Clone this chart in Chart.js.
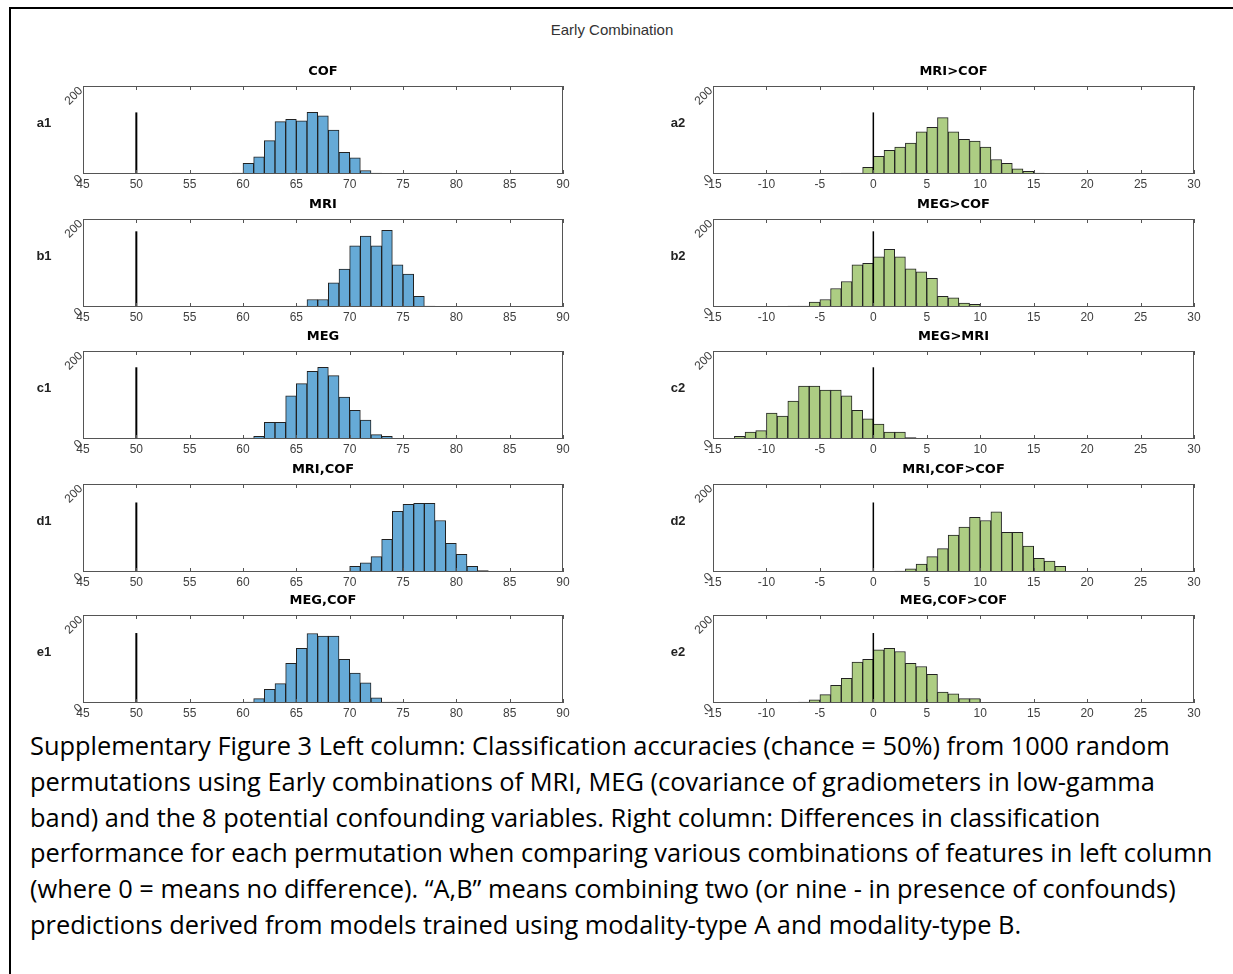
<!DOCTYPE html>
<html>
<head>
<meta charset="utf-8">
<script src="https://cdn.jsdelivr.net/npm/chart.js@4.4.1/dist/chart.umd.min.js"></script>
<style>
  body { margin: 0; background: #fff; }
  #page { position: relative; width: 1233px; height: 974px; overflow: hidden; background: #fff; }
  #frame { position: absolute; left: 9px; top: 7px; right: -5px; bottom: -5px; border-top: 2px solid #000; border-left: 2px solid #000; }
  #suptitle { position: absolute; left: 0; width: 1224px; top: 21px; text-align: center; font: 15px 'Liberation Sans', sans-serif; color: #333; }
  canvas { position: absolute; }
  #caption { position: absolute; left: 30px; top: 728px; font: 25.4px 'Open Sans', 'Liberation Sans', sans-serif; line-height: 35.8px; color: #000; white-space: nowrap; }
</style>
</head>
<body>
<div id="page">
  <div id="frame"></div>
  <div id="suptitle">Early Combination</div>
  <div id="caption">
    Supplementary Figure 3 Left column: Classification accuracies (chance = 50%) from 1000 random<br>
    permutations using Early combinations of MRI, MEG (covariance of gradiometers in low-gamma<br>
    band) and the 8 potential confounding variables. Right column: Differences in classification<br>
    performance for each permutation when comparing various combinations of features in left column<br>
    (where 0 = means no difference). “A,B” means combining two (or nine - in presence of confounds)<br>
    predictions derived from models trained using modality-type A and modality-type B.
  </div>
</div>
<script>
const leftRange = [45, 90];
const rightRange = [-15, 30];
const leftTicks = [45, 50, 55, 60, 65, 70, 75, 80, 85, 90];
const rightTicks = [-15, -10, -5, 0, 5, 10, 15, 20, 25, 30];
const yTicks = [0, 200];

const leftTitles = ['COF', 'MRI', 'MEG', 'MRI,COF', 'MEG,COF'];
const rightTitles = ['MRI>COF', 'MEG>COF', 'MEG>MRI', 'MRI,COF>COF', 'MEG,COF>COF'];
const leftNames = ['a1', 'b1', 'c1', 'd1', 'e1'];
const rightNames = ['a2', 'b2', 'c2', 'd2', 'e2'];

const chanceLeft = 50;
const chanceRight = 0;
const chanceHeights = [140, 172, 163, 158, 159];

// lower edge of the first bin, bins are 1 wide
const leftFirstBin = [59, 65, 60, 70, 60];
const rightFirstBin = [-3, -8, -13, 2, -7];

const a1 = [2, 24, 39, 76, 119, 124, 121, 140, 132, 100, 49, 37, 8, 2];
const b1 = [2, 17, 17, 55, 86, 139, 161, 139, 174, 96, 75, 24, 2];
const c1 = [2, 6, 38, 38, 98, 126, 154, 163, 144, 95, 65, 43, 10, 6];
const d1 = [13, 21, 35, 74, 138, 154, 156, 156, 117, 65, 40, 13, 3];
const e1 = [2, 10, 31, 44, 90, 124, 158, 152, 152, 99, 68, 46, 12, 2, 2];

const a2 = [2, 2, 15, 40, 54, 61, 70, 96, 106, 128, 96, 79, 75, 61, 33, 24, 12, 6, 2];
const b2 = [2, 2, 11, 17, 42, 58, 96, 99, 114, 131, 114, 87, 80, 65, 24, 21, 9, 6];
const c2 = [6, 16, 19, 59, 52, 86, 120, 120, 111, 111, 98, 65, 46, 34, 16, 16, 3];
const d2 = [2, 7, 18, 35, 53, 84, 102, 124, 117, 137, 90, 90, 59, 31, 25, 13];
const e2 = [2, 7, 19, 40, 56, 93, 99, 121, 124, 117, 90, 83, 65, 25, 21, 10, 10];

const leftCounts = [a1, b1, c1, d1, e1];
const rightCounts = [a2, b2, c2, d2, e2];

const blue = '#66AAD7';
const green = '#ADCD83';
const rowTops = [86, 219, 351, 484, 615];

const boxPlugin = {
  id: 'box',
  afterDraw(chart, args, opts) {
    const { ctx, chartArea: a, scales } = chart;
    ctx.save();
    ctx.strokeStyle = '#555';
    ctx.lineWidth = 1;
    ctx.strokeRect(a.left + 0.5, a.top + 0.5, a.right - a.left - 1, a.bottom - a.top - 1);
    // inward tick marks like matlab
    scales.x.ticks.forEach(t => {
      const px = Math.round(scales.x.getPixelForValue(t.value)) + 0.5;
      ctx.beginPath();
      ctx.moveTo(px, a.bottom);
      ctx.lineTo(px, a.bottom - 4);
      ctx.moveTo(px, a.top);
      ctx.lineTo(px, a.top + 4);
      ctx.stroke();
    });
    // slanted y labels
    ctx.fillStyle = '#404040';
    ctx.font = '12px "Liberation Sans", sans-serif';
    ctx.textAlign = 'right';
    ctx.textBaseline = 'middle';
    scales.y.ticks.forEach(t => {
      const py = scales.y.getPixelForValue(t.value);
      ctx.save();
      ctx.translate(a.left - 2, py + 3);
      ctx.rotate(-Math.PI / 4);
      ctx.fillText(String(t.value), 0, 0);
      ctx.restore();
    });
    ctx.fillStyle = '#000';
    ctx.textAlign = 'center';
    ctx.font = 'bold 13px "DejaVu Sans", sans-serif';
    ctx.fillText(opts.title, (a.left + a.right) / 2, a.top - 14);
    ctx.font = 'bold 13px "Liberation Sans", sans-serif';
    ctx.fillStyle = '#222';
    ctx.fillText(opts.name, opts.nameX, a.top + 37);
    ctx.restore();
  }
};

function makePanel(cfg) {
  const cv = document.createElement('canvas');
  cv.width = 560;
  cv.height = 150;
  cv.style.left = cfg.left + 'px';
  cv.style.top = (cfg.top - 28) + 'px';
  cv.style.width = '560px';
  cv.style.height = '150px';
  document.getElementById('page').appendChild(cv);

  const bars = cfg.counts.map((c, i) => ({ x: cfg.firstBin + i + 0.5, y: c }));

  new Chart(cv.getContext('2d'), {
    type: 'bar',
    data: {
      datasets: [
        {
          type: 'line',
          data: [{ x: cfg.chance, y: 0 }, { x: cfg.chance, y: cfg.chanceHeight }],
          borderColor: '#000',
          borderWidth: cfg.lineWidth,
          pointRadius: 0,
          order: 0
        },
        {
          data: bars,
          backgroundColor: cfg.color,
          borderColor: '#222',
          borderWidth: 1,
          borderSkipped: false,
          barPercentage: 1,
          categoryPercentage: 1,
          order: 1
        }
      ]
    },
    options: {
      responsive: false,
      animation: false,
      devicePixelRatio: 1,
      layout: { padding: { top: 28, bottom: 15, left: cfg.padLeft, right: cfg.padRight } },
      plugins: {
        legend: { display: false },
        tooltip: { enabled: false },
        box: { title: cfg.title, name: cfg.name, nameX: cfg.nameX }
      },
      scales: {
        x: {
          type: 'linear',
          offset: false,
          min: cfg.range[0],
          max: cfg.range[1],
          afterBuildTicks: s => { s.ticks = cfg.ticks.map(v => ({ value: v })); },
          afterFit: s => { s.height = 19; },
          grid: { display: false, drawTicks: false },
          border: { display: false },
          ticks: {
            autoSkip: false,
            maxRotation: 0,
            padding: 3,
            color: '#404040',
            font: { family: 'Liberation Sans', size: 12 }
          }
        },
        y: {
          min: 0,
          max: 200,
          afterBuildTicks: s => { s.ticks = yTicks.map(v => ({ value: v })); },
          afterFit: s => { s.width = 20; },
          grid: { display: false, drawTicks: false },
          border: { display: false },
          ticks: { display: false }
        }
      }
    },
    plugins: [boxPlugin]
  });
}

for (let r = 0; r < 5; r++) {
  makePanel({
    left: 20, top: rowTops[r], padLeft: 43, padRight: 17, nameX: 24,
    range: leftRange, ticks: leftTicks, counts: leftCounts[r], firstBin: leftFirstBin[r],
    chance: chanceLeft, chanceHeight: chanceHeights[r], lineWidth: 2,
    color: blue, title: leftTitles[r], name: leftNames[r]
  });
  makePanel({
    left: 660, top: rowTops[r], padLeft: 33, padRight: 26, nameX: 18,
    range: rightRange, ticks: rightTicks, counts: rightCounts[r], firstBin: rightFirstBin[r],
    chance: chanceRight, chanceHeight: chanceHeights[r], lineWidth: 1.5,
    color: green, title: rightTitles[r], name: rightNames[r]
  });
}
</script>
</body>
</html>
